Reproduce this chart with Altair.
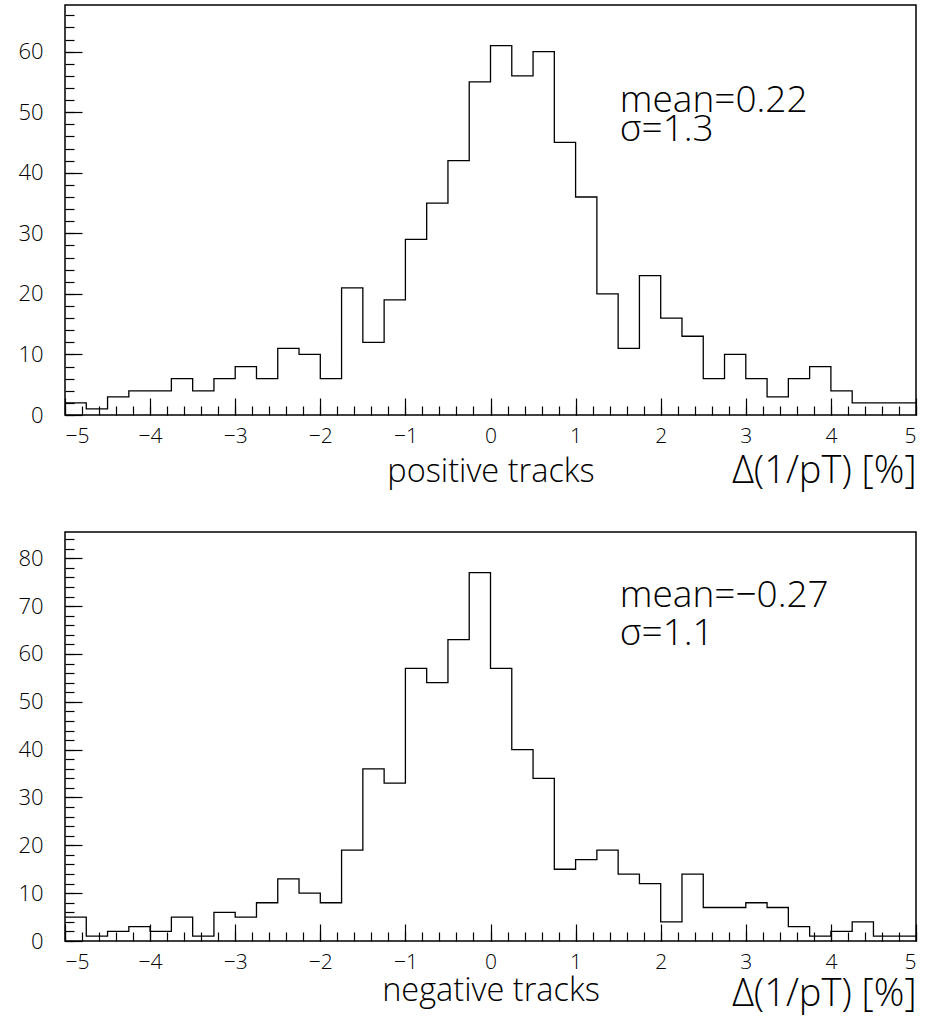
import altair as alt
import pandas as pd

# ---- data ----
x_min = -5.0
bin_width = 0.25
n_bins = 40

pos_counts = [2, 1, 3, 4, 4, 6, 4, 6, 8, 6,
              11, 10, 6, 21, 12, 19, 29, 35, 42, 55,
              61, 56, 60, 45, 36, 20, 11, 23, 16, 13,
              6, 10, 6, 3, 6, 8, 4, 2, 2, 2]
neg_counts = [5, 1, 2, 3, 2, 5, 1, 6, 5, 8,
              13, 10, 8, 19, 36, 33, 57, 54, 63, 77,
              57, 40, 34, 15, 17, 19, 14, 12, 4, 14,
              7, 7, 8, 7, 3, 1, 2, 4, 1, 1]

x_major = [-5, -4, -3, -2, -1, 0, 1, 2, 3, 4, 5]
x_minor = [round(-5 + 0.2 * i, 1) for i in range(51)]

pos_y_major = [0, 10, 20, 30, 40, 50, 60]
pos_y_minor = list(range(0, 67, 2))
neg_y_major = [0, 10, 20, 30, 40, 50, 60, 70, 80]
neg_y_minor = list(range(0, 85, 2))

pos_label = "positive tracks"
neg_label = "negative tracks"
x_title = "Δ(1/pT) [%]"
pos_stats = ["mean=0.22", "σ=1.3"]
neg_stats = ["mean=−0.27", "σ=1.1"]
stats_x = 1.52
pos_stats_y = [51.8, 47.0]
neg_stats_y = [72.1, 64.2]

FONT = "Open Sans"

edges = [x_min + bin_width * i for i in range(n_bins + 1)]


def panel(counts, label, stats, stats_y, ymax, ymajor, yminor, height,
          delta_title_y, track_title_y):
    df = pd.DataFrame({"x": edges, "count": counts + [counts[-1]]})
    xscale = alt.Scale(domain=[-5, 5], nice=False, zero=False)
    yscale = alt.Scale(domain=[0, ymax], nice=False, zero=True)

    hist = alt.Chart(df).mark_line(
        interpolate="step-after", color="black", strokeWidth=1.3
    ).encode(
        x=alt.X("x:Q", scale=xscale, axis=alt.Axis(
            orient="bottom",
            values=x_major, tickSize=17, offset=-17, domain=False, grid=False,
            labelFontSize=21, labelPadding=10, format="d",
            title=x_title, titleAnchor="end", titleY=delta_title_y,
            titleBaseline="alphabetic", titleFontSize=38, titleFontWeight=300)),
        y=alt.Y("count:Q", scale=yscale, axis=alt.Axis(
            orient="left",
            values=ymajor, tickSize=17, offset=-17, domain=False, grid=False,
            labelFontSize=22, labelPadding=22, title=None)),
    )

    minor = alt.Chart(df).mark_line(strokeOpacity=0).encode(
        x=alt.X("x:Q", scale=xscale, axis=alt.Axis(
            orient="bottom",
            values=x_minor, tickSize=9, offset=-9, domain=False, grid=False,
            labels=False, title=label, titleY=track_title_y,
            titleBaseline="alphabetic", titleFontSize=32.5, titleFontWeight=300)),
        y=alt.Y("count:Q", scale=yscale, axis=alt.Axis(
            orient="left",
            values=yminor, tickSize=9, offset=-9, domain=False, grid=False,
            labels=False, title=None)),
    )

    ann_df = pd.DataFrame({"x": [stats_x, stats_x], "y": stats_y, "text": stats})
    ann = alt.Chart(ann_df).mark_text(
        align="left", baseline="middle", fontSize=37, font=FONT,
        fontWeight=300, color="black"
    ).encode(
        x=alt.X("x:Q", scale=xscale, axis=None),
        y=alt.Y("y:Q", scale=yscale, axis=None),
        text="text:N",
    )

    return alt.layer(hist, minor, ann).resolve_axis(
        x="independent", y="independent"
    ).properties(width=851, height=height)


top = panel(pos_counts, pos_label, pos_stats, pos_stats_y, 67.7,
            pos_y_major, pos_y_minor, 410, 84, 75)
bottom = panel(neg_counts, neg_label, neg_stats, neg_stats_y, 85.5,
               neg_y_major, neg_y_minor, 409, 81, 68)

chart = alt.vconcat(top, bottom, spacing=40).properties(
    padding={"left": 17, "top": 4, "right": 5, "bottom": 5},
    background="white",
).configure_view(
    stroke="black", strokeWidth=1.5
).configure_axis(
    tickColor="black", tickWidth=1.2, labelColor="black", titleColor="black",
    labelFont=FONT, titleFont=FONT, labelFontWeight=300,
)

chart.save("out.html", embed_options={"renderer": "svg", "actions": False})
